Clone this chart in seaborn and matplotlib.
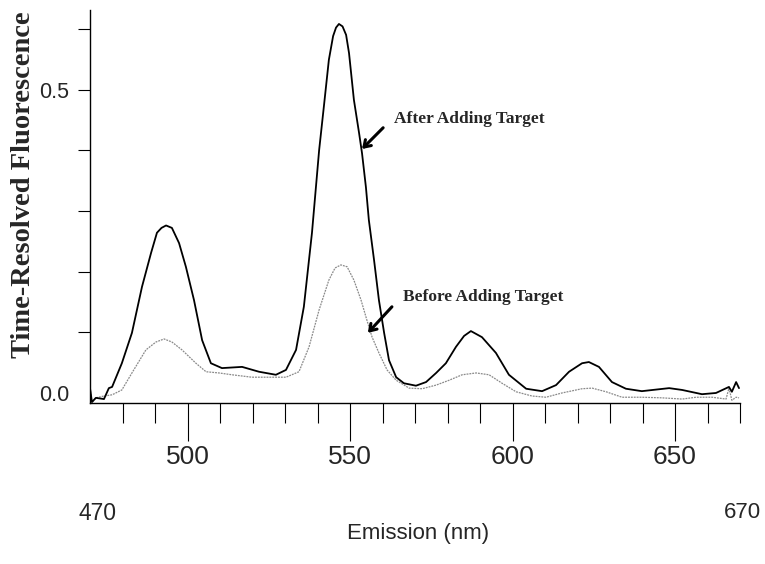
import matplotlib
matplotlib.use("Agg")
import matplotlib.pyplot as plt
import seaborn as sns
import pandas as pd

# ---- data ----
after_nm = [470.0, 470.6, 471.8, 474.3, 475.8, 476.8, 479.8, 482.9, 486.0, 488.8,
            490.6, 492.0, 493.4, 495.2, 497.4, 499.5, 502.0, 504.5, 507.2, 510.6, 516.8,
            522.0, 527.2, 530.3, 533.4, 535.8, 538.3, 540.5, 542.0, 543.5, 544.8,
            545.7, 546.6, 547.7, 548.8, 549.7, 551.2, 552.8, 553.7, 554.9, 555.8, 557.4, 558.9,
            560.5, 562.0, 564.2, 566.6, 570.3, 573.4, 576.5, 579.5, 582.6, 585.1,
            587.2, 590.6, 594.9, 598.9, 604.2, 609.1, 613.4, 617.4, 621.4, 623.5,
            626.6, 630.6, 634.9, 639.8, 648.2, 652.2, 658.3, 662.6, 666.6, 667.5,
            668.8, 669.7]
after_val = [0.008, -0.015, -0.008, -0.010, 0.008, 0.010, 0.049, 0.099, 0.175, 0.231,
             0.264, 0.272, 0.276, 0.272, 0.247, 0.208, 0.153, 0.087, 0.049, 0.041, 0.043,
             0.035, 0.030, 0.038, 0.071, 0.142, 0.264, 0.400, 0.474, 0.549, 0.588,
             0.602, 0.608, 0.604, 0.590, 0.560, 0.483, 0.428, 0.395, 0.339, 0.285, 0.219, 0.153,
             0.099, 0.054, 0.026, 0.016, 0.012, 0.018, 0.033, 0.049, 0.076, 0.094,
             0.102, 0.092, 0.066, 0.030, 0.007, 0.003, 0.013, 0.035, 0.049, 0.051,
             0.043, 0.018, 0.007, 0.003, 0.008, 0.005, -0.002, 0.000, 0.010, 0.002,
             0.018, 0.008]

before_nm = [470.0, 470.6, 471.8, 474.3, 476.8, 479.8, 482.9, 487.2, 490.3, 492.8,
             495.2, 498.3, 502.6, 505.7, 509.7, 513.7, 519.8, 526.0, 530.3, 534.3,
             537.4, 540.5, 543.5, 545.4, 547.2, 549.1, 551.2, 553.4, 555.2, 556.8,
             558.9, 561.4, 564.2, 568.2, 572.2, 576.5, 580.5, 584.5, 588.8, 592.8,
             596.8, 601.1, 606.0, 610.3, 615.2, 621.4, 624.5, 628.8, 633.7, 639.8,
             646.0, 652.2, 656.5, 661.4, 665.7, 666.6, 667.5, 668.8, 669.7]
before_val = [0.008, -0.015, -0.008, -0.005, -0.003, 0.005, 0.033, 0.071, 0.084, 0.089,
              0.084, 0.071, 0.049, 0.035, 0.033, 0.030, 0.026, 0.026, 0.026, 0.035,
              0.076, 0.137, 0.186, 0.206, 0.211, 0.208, 0.186, 0.153, 0.120, 0.092,
              0.066, 0.038, 0.021, 0.008, 0.007, 0.013, 0.021, 0.030, 0.033, 0.030,
              0.016, 0.002, -0.005, -0.007, 0.000, 0.007, 0.008, 0.002, -0.007, -0.007,
              -0.008, -0.010, -0.007, -0.007, -0.010, 0.008, -0.012, -0.007, -0.008]

x_major = [500, 550, 600, 650]
x_major_labels = ["500", "550", "600", "650"]
x_minor = [480, 490, 510, 520, 530, 540, 560, 570, 580, 590, 610, 620, 630, 640, 660, 670]
y_major = [0.0, 0.5]
y_major_labels = ["0.0", "0.5"]
y_minor = [0.1, 0.2, 0.3, 0.4, 0.6]

after_df = pd.DataFrame({"Emission (nm)": after_nm, "Fluorescence": after_val})
before_df = pd.DataFrame({"Emission (nm)": before_nm, "Fluorescence": before_val})

sns.set_style("white")
plt.rcParams["font.family"] = ["Liberation Sans", "DejaVu Sans"]
narrow = ["Liberation Sans Narrow", "Liberation Sans", "DejaVu Sans"]
serif = ["Liberation Serif", "DejaVu Serif"]

fig = plt.figure(figsize=(7.65, 5.64), dpi=100)
ax = fig.add_axes([90 / 765, 1 - 403 / 564, 650 / 765, 393 / 564])

sns.lineplot(data=before_df, x="Emission (nm)", y="Fluorescence", ax=ax,
             color="#8a8a8a", lw=0.9, linestyle=(0, (1.5, 0.8)), estimator=None, sort=False)
sns.lineplot(data=after_df, x="Emission (nm)", y="Fluorescence", ax=ax,
             color="black", lw=1.3, estimator=None, sort=False)

ax.set_xlim(470, 670)
ax.set_ylim(-0.0165, 0.631)
ax.set_xlabel("")
ax.set_ylabel("")

for s in ["top", "right"]:
    ax.spines[s].set_visible(False)
for s in ["left", "bottom"]:
    ax.spines[s].set_color("black")
    ax.spines[s].set_linewidth(1.0)

ax.set_xticks(x_major)
ax.set_xticklabels(x_major_labels, fontsize=19)
ax.set_xticks(x_minor, minor=True)
ax.tick_params(axis="x", which="major", direction="out", length=27.4, width=0.8,
               color="black", pad=3, bottom=True)
ax.tick_params(axis="x", which="minor", direction="out", length=14.4, width=0.8,
               color="black", bottom=True)

ax.set_yticks(y_major)
ax.set_yticklabels(y_major_labels, fontsize=15.5, family=narrow, fontstretch="condensed")
ax.set_yticks(y_minor, minor=True)
ax.tick_params(axis="y", which="major", direction="out", length=8.6, width=0.8,
               color="black", pad=17, left=True)
ax.tick_params(axis="y", which="minor", direction="out", length=8.6, width=0.8,
               color="black", left=True)
ax.yaxis.get_major_ticks()[0].tick1line.set_visible(False)
for lab in ax.get_yticklabels():
    lab.set_horizontalalignment("center")

# axis range labels and titles
fig.text(98 / 765, 1 - 514 / 564, "470", fontsize=16.5, family=narrow, ha="center", va="center")
fig.text(742 / 765, 1 - 512 / 564, "670", fontsize=16, family=narrow, ha="center", va="center")
fig.text(418 / 765, 1 - 534 / 564, "Emission (nm)", fontsize=16, family=narrow,
         ha="center", va="center")
fig.text(24 / 765, 1 - 185 / 564, "Time-Resolved Fluorescence", fontsize=20.5,
         family=serif, fontweight="bold", rotation=90, ha="center", va="center")

arrow = dict(arrowstyle="->,head_length=0.45,head_width=0.3", lw=2.2, color="black",
             shrinkA=0, shrinkB=0)
ax.text(563.5, 0.445, "After Adding Target", fontsize=12.5, family=serif,
        fontweight="bold", ha="left", va="baseline")
ax.annotate("", xy=(553.7, 0.402), xytext=(560.2, 0.437), arrowprops=arrow)
ax.text(566.3, 0.152, "Before Adding Target", fontsize=12.5, family=serif,
        fontweight="bold", ha="left", va="baseline")
ax.annotate("", xy=(555.5, 0.099), xytext=(562.9, 0.142), arrowprops=arrow)

fig.savefig("out.png", dpi=100)
